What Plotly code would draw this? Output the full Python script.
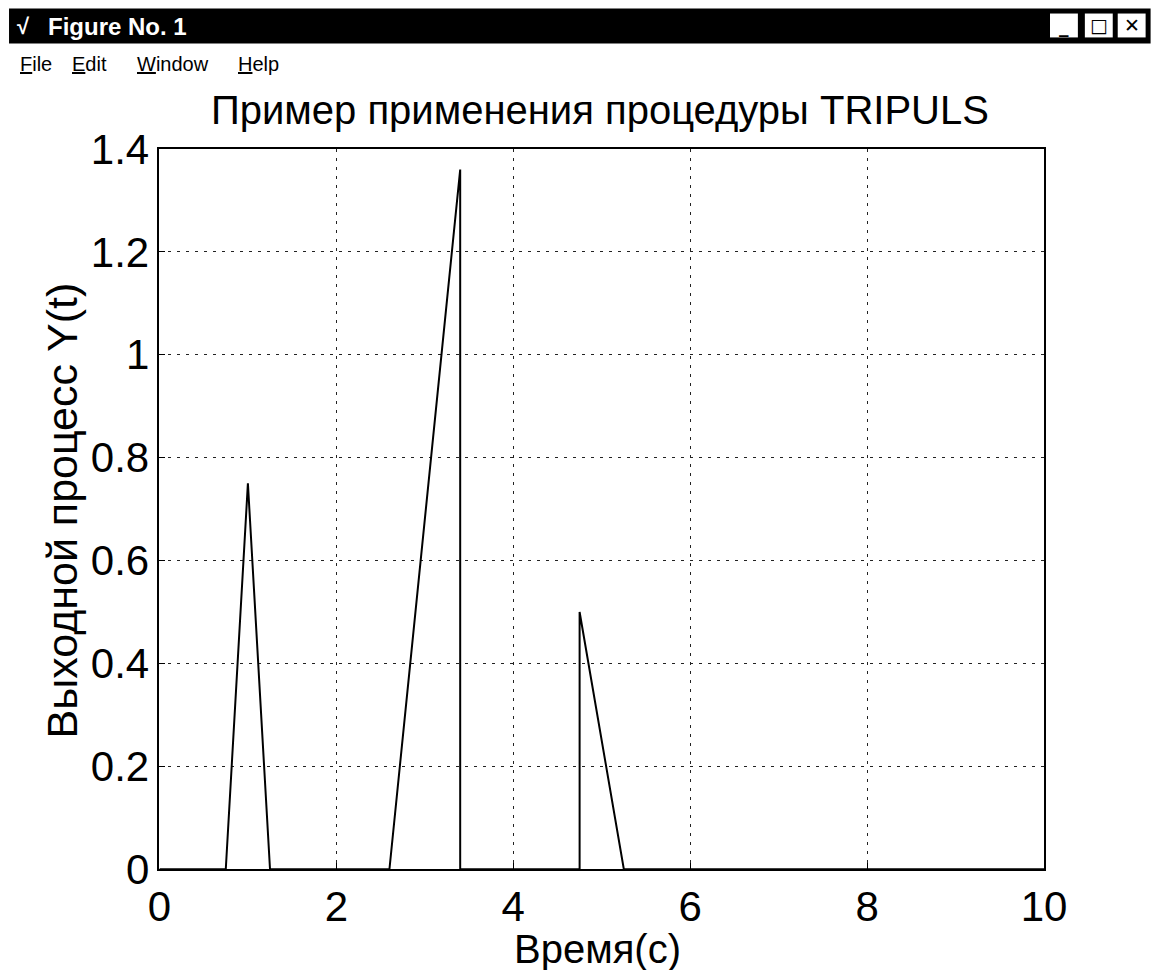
import plotly.graph_objects as go

# ---- data ----
t_vals = [0.0, 0.75, 1.0, 1.25, 2.6, 3.4, 3.4, 4.75, 4.75, 5.25, 10.0]
y_vals = [0.0, 0.0, 0.75, 0.0, 0.0, 1.36, 0.0, 0.0, 0.5, 0.0, 0.0]
x_ticks = [0, 2, 4, 6, 8, 10]
x_ticktext = ["0", "2", "4", "6", "8", "10"]
y_ticks = [0, 0.2, 0.4, 0.6, 0.8, 1.0, 1.2, 1.4]
y_ticktext = ["0", "0.2", "0.4", "0.6", "0.8", "1", "1.2", "1.4"]
title_text = "Пример применения процедуры TRIPULS"
xlabel_text = "Время(с)"
ylabel_text = "Выходной процесс Y(t)"
window_title = "Figure No. 1"
menu_items = ["<u>F</u>ile", "<u>E</u>dit", "<u>W</u>indow", "<u>H</u>elp"]

FONT = "Liberation Sans, Arial, sans-serif"

# empirical mapping between target picture pixels and figure pixels
SX, SY, OX, OY, BODY = 0.974, 0.956, 10.5, 22.9, 8
W, H = 1176, 986


def fx(X):
    return X / SX - OX - BODY


def fy(Y):
    return Y / SY - OY - BODY


def px(X):
    return fx(X) / W


def py(Y):
    return 1 - fy(Y) / H


fig = go.Figure()
fig.add_trace(go.Scatter(x=t_vals, y=y_vals, mode="lines",
                         line=dict(color="black", width=2),
                         showlegend=False, hoverinfo="skip"))

axis_common = dict(
    showline=True, linecolor="black", linewidth=1.6, mirror=True,
    showgrid=True, gridcolor="#222", gridwidth=1.2, griddash="3px,6px",
    zeroline=False, ticks="inside", ticklen=6, tickcolor="black",
    tickfont=dict(family=FONT, size=42, color="black"),
    ticklabelstandoff=0,
)

fig.update_layout(
    width=W, height=H,
    margin=dict(l=0, r=0, t=0, b=0),
    paper_bgcolor="white", plot_bgcolor="white",
    xaxis=dict(range=[0, 10], tickvals=x_ticks, ticktext=x_ticktext,
               domain=[px(158), px(1046)], **axis_common),
    yaxis=dict(range=[0, 1.4], tickvals=y_ticks, ticktext=y_ticktext,
               domain=[py(871), py(148)], **axis_common),
)

ann = []
ann.append(dict(text=title_text, x=px(600), y=py(109), xref="paper", yref="paper",
                showarrow=False, xanchor="center", yanchor="middle",
                font=dict(family=FONT, size=40, color="black")))
ann.append(dict(text=xlabel_text, x=px(598), y=py(951), xref="paper", yref="paper",
                showarrow=False, xanchor="center", yanchor="middle",
                font=dict(family=FONT, size=40, color="black")))
ann.append(dict(text=ylabel_text, x=px(60), y=py(511), xref="paper", yref="paper",
                showarrow=False, xanchor="center", yanchor="middle", textangle=-90,
                font=dict(family=FONT, size=43, color="black")))
# window title bar text
ann.append(dict(text="<b>√</b>", x=px(13), y=py(25), xref="paper", yref="paper",
                showarrow=False, xanchor="left", yanchor="middle",
                font=dict(family=FONT, size=22, color="white")))
ann.append(dict(text="<b>" + window_title + "</b>", x=px(44), y=py(25), xref="paper", yref="paper",
                showarrow=False, xanchor="left", yanchor="middle",
                font=dict(family=FONT, size=24, color="white")))
# menu
menu_x = [16, 68, 133, 235]
for mx, mt in zip(menu_x, menu_items):
    ann.append(dict(text=mt, x=px(mx), y=py(63), xref="paper", yref="paper",
                    showarrow=False, xanchor="left", yanchor="middle",
                    font=dict(family=FONT, size=20, color="black")))
# window buttons
btns = [(1052, 1080, "_"), (1087, 1115, "□"), (1120, 1148, "✕")]
shapes = [dict(type="rect", xref="paper", yref="paper", x0=px(7), x1=px(1153),
               y0=py(42), y1=py(7), fillcolor="black", line=dict(width=0), layer="below")]
for x0, x1, g in btns:
    shapes.append(dict(type="rect", xref="paper", yref="paper", x0=px(x0), x1=px(x1),
                       y0=py(36), y1=py(12), fillcolor="white", line=dict(width=0)))
    ann.append(dict(text="<b>" + g + "</b>", x=px((x0 + x1) / 2), y=py(24), xref="paper", yref="paper",
                    showarrow=False, xanchor="center", yanchor="middle",
                    font=dict(family="DejaVu Sans", size=19, color="black")))
shapes.append(dict(type="line", xref="paper", yref="paper", x0=px(1156), x1=px(1156),
                   y0=py(968), y1=py(40), line=dict(color="#aaa", width=1)))

fig.update_layout(annotations=ann, shapes=shapes)
fig.write_html("out.html")
